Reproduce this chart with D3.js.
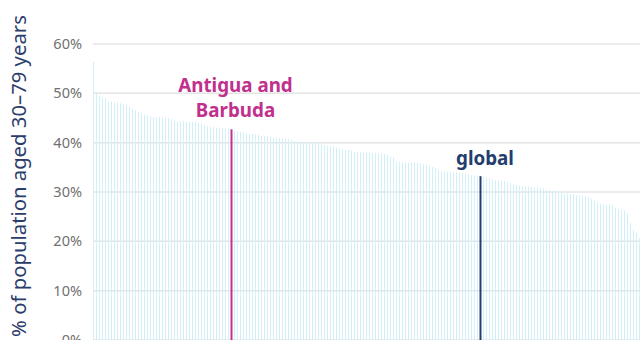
<!DOCTYPE html>
<html><head><meta charset="utf-8">
<script src="https://cdn.jsdelivr.net/npm/d3@7"></script>
<style>body{margin:0;background:#fff}svg{display:block}</style>
</head><body>
<svg id="c" width="640" height="340"></svg>
<script>
const values = [56.4,50.2,49.5,49.1,49.0,48.3,48.3,48.2,48.1,48.0,
47.8,47.5,47.2,46.9,46.6,46.3,46.0,45.7,45.5,45.3,
45.2,45.2,45.1,45.1,45.1,45.0,44.8,44.4,44.3,44.3,
44.3,44.2,44.2,44.2,44.1,44.0,43.8,43.6,43.4,43.3,
43.1,43.1,43.0,43.0,42.9,42.8,42.7,42.4,42.3,42.2,
42.1,41.9,41.8,41.8,41.7,41.6,41.4,41.4,41.3,41.2,
41.0,40.9,40.9,40.8,40.8,40.7,40.6,40.3,40.2,40.2,
40.1,40.1,40.0,40.0,39.9,39.8,39.6,39.5,39.4,39.3,
39.2,39.0,38.8,38.7,38.6,38.5,38.4,38.2,38.1,38.0,
38.0,38.0,38.0,37.9,37.9,37.9,37.8,37.7,37.5,37.2,
37.0,36.2,36.1,36.0,36.0,36.0,36.0,35.9,35.9,35.8,
35.7,35.5,35.2,35.1,34.9,34.5,34.2,34.1,34.1,34.1,
34.0,34.0,33.9,33.9,33.8,33.6,33.4,33.4,33.3,33.2,
33.0,32.9,32.8,32.6,32.4,32.3,32.3,32.2,32.0,31.8,
31.7,31.5,31.3,31.2,31.2,31.1,31.0,30.9,30.9,30.8,
30.7,30.5,30.4,30.3,30.2,29.9,29.8,29.7,29.7,29.6,
29.6,29.4,29.3,29.2,29.1,29.0,28.7,28.3,27.9,27.6,
27.5,27.4,27.3,27.2,26.8,26.6,26.4,26.2,25.6,23.8,
22.3,21.8,20.6];
const highlightNames = ["Antigua and Barbuda", "global"];
const highlightIndex = [46, 129];
const highlightColors = ["#c0308c", "#233d6e"];
const yTicks = [0,10,20,30,40,50,60];
const yTitle = "% of population aged 30–79 years";

const svg = d3.select("#c");
const n = values.length;
const x = d3.scaleLinear().domain([0, n-1]).range([93.5, 639.5]);
const y = d3.scaleLinear().domain([0, 60]).range([340, 44]);

// gridlines
svg.append("g").selectAll("line").data(yTicks).join("line")
  .attr("x1", 93).attr("x2", 640)
  .attr("y1", d => y(d)).attr("y2", d => y(d))
  .attr("stroke", "#e4e4e4").attr("stroke-width", 1.5);

// tick labels
svg.append("g").selectAll("text").data(yTicks).join("text")
  .attr("x", 82).attr("y", d => y(d)).attr("dy", "0.35em")
  .attr("text-anchor", "end")
  .attr("font-family", "'Noto Sans',sans-serif")
  .attr("font-size", 14.5).attr("fill", "#707070")
  .text(d => d + "%");

// bars
svg.append("g").selectAll("line").data(values).join("line")
  .attr("x1", (d,i) => x(i)).attr("x2", (d,i) => x(i))
  .attr("y1", y(0)).attr("y2", d => y(d))
  .attr("stroke", "#d2f0f9").attr("stroke-width", 1);

// highlighted bars
highlightIndex.forEach((idx, k) => {
  svg.append("line")
    .attr("x1", x(idx)).attr("x2", x(idx))
    .attr("y1", y(0)).attr("y2", y(values[idx]))
    .attr("stroke", highlightColors[k]).attr("stroke-width", 2);
});

// labels
const lx = x(highlightIndex[0]) + 4;
const lab1 = svg.append("text")
  .attr("y", 92)
  .attr("text-anchor", "middle")
  .attr("font-family", "'Noto Sans',sans-serif").attr("font-weight", "bold")
  .attr("font-size", 18.8).attr("fill", highlightColors[0]);
lab1.append("tspan").attr("x", lx).attr("dy", 0).text("Antigua and");
lab1.append("tspan").attr("x", lx).attr("dy", 24.5).text("Barbuda");

svg.append("text")
  .attr("x", x(highlightIndex[1]) + 4.5).attr("y", 165)
  .attr("text-anchor", "middle")
  .attr("font-family", "'Noto Sans',sans-serif").attr("font-weight", "bold")
  .attr("font-size", 18.8).attr("fill", highlightColors[1])
  .text(highlightNames[1]);

// y title
svg.append("text")
  .attr("transform", "translate(26,176) rotate(-90)")
  .attr("text-anchor", "middle")
  .attr("font-family", "'Noto Sans',sans-serif")
  .attr("font-size", 20.3).attr("fill", "#2b3d6b")
  .text(yTitle);
</script>
</body></html>
